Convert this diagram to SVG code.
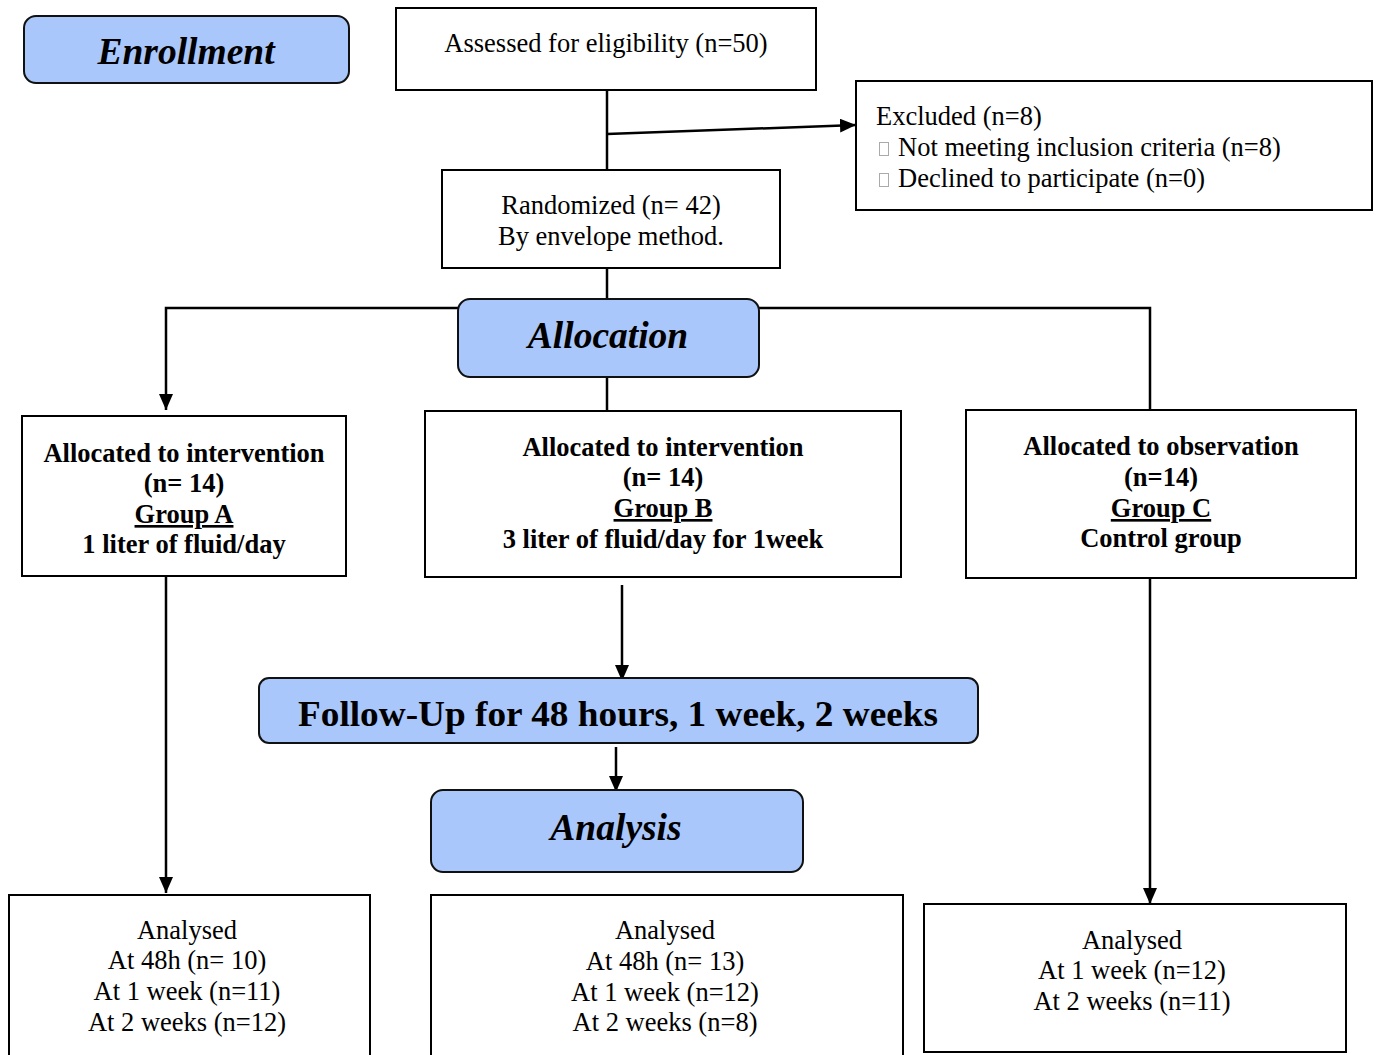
<svg xmlns="http://www.w3.org/2000/svg" width="1378" height="1055" viewBox="0 0 1378 1055">
<defs>
<style>
.box{fill:#fff;stroke:#000;stroke-width:2}
.phase{fill:#a9c7fb;stroke:#111;stroke-width:2}
.t{font-family:"Liberation Serif","Times New Roman",serif;font-size:26.5px;fill:#000}
.c{text-anchor:middle}
.b{font-weight:bold}
.ph{font-family:"Liberation Serif","Times New Roman",serif;font-size:37.5px;font-weight:bold;font-style:italic;text-anchor:middle;fill:#000}
.u{text-decoration:underline}
.ln{fill:none;stroke:#000;stroke-width:2.5}
.tofu{fill:none;stroke:#aaa;stroke-width:1}
</style>
<marker id="arrow" viewBox="0 0 16 14" refX="16" refY="7" markerWidth="16" markerHeight="14" markerUnits="userSpaceOnUse" orient="auto">
<path d="M0,0 L16,7 L0,14 Z" fill="#000"/>
</marker>
</defs>

<g id="connectors">
<line class="ln" x1="607" y1="88" x2="607" y2="170"/>
<line class="ln" x1="607" y1="134" x2="856" y2="125" marker-end="url(#arrow)"/>
<line class="ln" x1="607" y1="268" x2="607" y2="300"/>
<polyline class="ln" points="458,308 166,308 166,410" marker-end="url(#arrow)"/>
<polyline class="ln" points="759,308 1150,308 1150,410"/>
<line class="ln" x1="607" y1="377" x2="607" y2="411"/>
<line class="ln" x1="166" y1="576" x2="166" y2="893" marker-end="url(#arrow)"/>
<line class="ln" x1="622" y1="585" x2="622" y2="681" marker-end="url(#arrow)"/>
<line class="ln" x1="1150" y1="578" x2="1150" y2="904" marker-end="url(#arrow)"/>
<line class="ln" x1="616" y1="747" x2="616" y2="792" marker-end="url(#arrow)"/>
</g>

<g id="enrollment">
<rect class="phase" x="24" y="16" width="325" height="67" rx="12"/>
<text class="ph" x="186" y="64">Enrollment</text>
</g>

<g id="assessed">
<rect class="box" x="396" y="8" width="420" height="82"/>
<text class="t c" x="606" y="52">Assessed for eligibility (n=50)</text>
</g>

<g id="excluded">
<rect class="box" x="856" y="81" width="516" height="129"/>
<text class="t" x="876" y="125">Excluded (n=8)</text>
<rect class="tofu" x="879.5" y="142.5" width="9" height="13"/>
<text class="t" x="898" y="156">Not meeting inclusion criteria (n=8)</text>
<rect class="tofu" x="879.5" y="173.5" width="9" height="13"/>
<text class="t" x="898" y="187">Declined to participate (n=0)</text>
</g>

<g id="randomized">
<rect class="box" x="442" y="170" width="338" height="98"/>
<text class="t c" x="611" y="214">Randomized (n= 42)</text>
<text class="t c" x="611" y="245">By envelope method.</text>
</g>

<g id="allocation">
<rect class="phase" x="458" y="299" width="301" height="78" rx="12"/>
<text class="ph" x="608" y="348">Allocation</text>
</g>

<g id="groupA">
<rect class="box" x="22" y="416" width="324" height="160"/>
<text class="t c b" x="184" y="462">Allocated to intervention</text>
<text class="t c b" x="184" y="492">(n= 14)</text>
<text class="t c b u" x="184" y="523">Group A</text>
<text class="t c b" x="184" y="553">1 liter of fluid/day</text>
</g>

<g id="groupB">
<rect class="box" x="425" y="411" width="476" height="166"/>
<text class="t c b" x="663" y="456">Allocated to intervention</text>
<text class="t c b" x="663" y="486">(n= 14)</text>
<text class="t c b u" x="663" y="517">Group B</text>
<text class="t c b" x="663" y="548">3 liter of fluid/day for 1week</text>
</g>

<g id="groupC">
<rect class="box" x="966" y="410" width="390" height="168"/>
<text class="t c b" x="1161" y="455">Allocated to observation</text>
<text class="t c b" x="1161" y="486">(n=14)</text>
<text class="t c b u" x="1161" y="517">Group C</text>
<text class="t c b" x="1161" y="547">Control group</text>
</g>

<g id="followup">
<rect class="phase" x="259" y="678" width="719" height="65" rx="10"/>
<text class="t c b" x="618" y="726" style="font-size:36px" textLength="640" lengthAdjust="spacingAndGlyphs">Follow-Up for 48 hours, 1 week, 2 weeks</text>
</g>

<g id="analysis">
<rect class="phase" x="431" y="790" width="372" height="82" rx="12"/>
<text class="ph" x="616" y="840">Analysis</text>
</g>

<g id="analysedA">
<rect class="box" x="9" y="895" width="361" height="170"/>
<text class="t c" x="187" y="939">Analysed</text>
<text class="t c" x="187" y="969">At 48h (n= 10)</text>
<text class="t c" x="187" y="1000">At 1 week (n=11)</text>
<text class="t c" x="187" y="1031">At 2 weeks (n=12)</text>
</g>

<g id="analysedB">
<rect class="box" x="431" y="895" width="472" height="170"/>
<text class="t c" x="665" y="939">Analysed</text>
<text class="t c" x="665" y="970">At 48h (n= 13)</text>
<text class="t c" x="665" y="1001">At 1 week (n=12)</text>
<text class="t c" x="665" y="1031">At 2 weeks (n=8)</text>
</g>

<g id="analysedC">
<rect class="box" x="924" y="904" width="422" height="148"/>
<text class="t c" x="1132" y="949">Analysed</text>
<text class="t c" x="1132" y="979">At 1 week (n=12)</text>
<text class="t c" x="1132" y="1010">At 2 weeks (n=11)</text>
</g>
</svg>
